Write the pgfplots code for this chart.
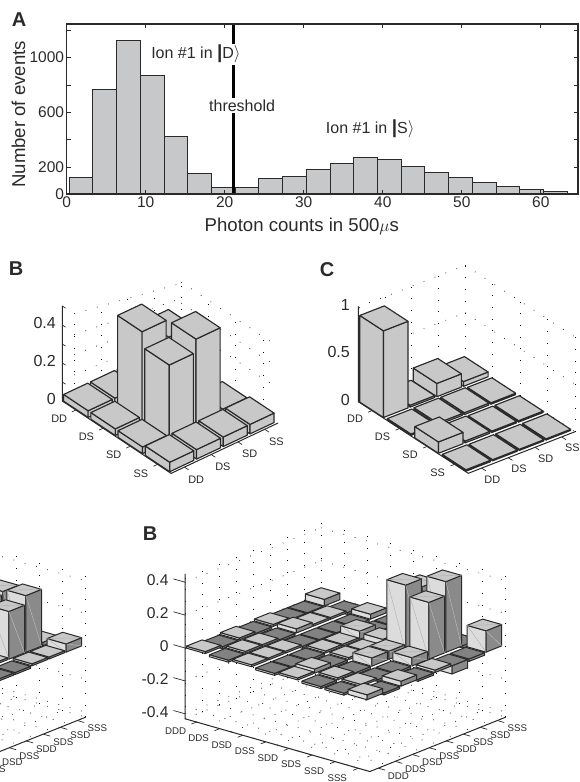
\documentclass[border=0pt]{standalone}
\usepackage{pgfplots}
\pgfplotsset{compat=1.18}
\usepackage{fontspec}
\setmainfont{Liberation Sans}

\definecolor{histbar}{HTML}{C6C8C9}
\definecolor{frame}{HTML}{2A2A2A}
\definecolor{ctop}{HTML}{C8C8C8}
\definecolor{cleft}{HTML}{DCDCDC}
\definecolor{cright}{HTML}{8A8A8A}
\definecolor{cdark}{HTML}{828282}

\pgfplotsset{
  bars3d/.style={hide axis,clip=false,anchor=origin},
  barface/.style={draw=frame,line width=\barlw,line join=round},
  dotline/.style={black,line width=.7pt,dash pattern=on .7pt off 11pt},
  axline/.style={frame,line width=1pt},
}

% one 3d bar: row i, column j, value. Back to front order is up to the caller.
\def\gapx{0.08}\def\gapy{0.08}\def\barlw{1.15pt}
\def\lcol{ctop}\def\rcol{ctop}
\newif\ifdiag
\newcommand\qbar[3]{%
  \pgfmathsetmacro\xa{#1+.5*\gapx}\pgfmathsetmacro\xb{#1+1-1.5*\gapx}%
  \pgfmathsetmacro\ya{#2+.5*\gapy}\pgfmathsetmacro\yb{#2+1-1.5*\gapy}%
  \pgfmathsetmacro\zt{max(#3,0)}%
  \ifdim#3pt<0pt \def\tcol{cdark}\else\def\tcol{ctop}\fi
  \edef\temp{%
    \noexpand\addplot3[barface,fill=\lcol] coordinates {(\xa,\ya,0)(\xb,\ya,0)(\xb,\ya,#3)(\xa,\ya,#3)(\xa,\ya,0)};
    \noexpand\addplot3[barface,fill=\rcol] coordinates {(\xb,\ya,0)(\xb,\yb,0)(\xb,\yb,#3)(\xb,\ya,#3)(\xb,\ya,0)};
    \noexpand\addplot3[barface,fill=\tcol] coordinates {(\xa,\ya,\zt)(\xb,\ya,\zt)(\xb,\yb,\zt)(\xa,\yb,\zt)(\xa,\ya,\zt)};
  }\temp
  \ifdiag\ifdim#3pt>0.04pt
    \edef\temp{%
      \noexpand\addplot3[gray!70,line width=.3pt] coordinates {(\xa,\ya,#3)(\xb,\ya,0)};
      \noexpand\addplot3[gray!40,line width=.3pt] coordinates {(\xb,\ya,#3)(\xb,\yb,0)};
      \noexpand\addplot3[gray!70,line width=.3pt] coordinates {(\xa,\ya,#3)(\xb,\yb,#3)};
    }\temp
  \fi\fi
}
% a row of bars, from column #2 down to column 0
\newcommand\barrow[3]{%
  \def\jj{#2}%
  \pgfplotsforeachungrouped \vv in {#3}{%
    \qbar{#1}{\jj}{\vv}%
    \pgfmathtruncatemacro\jj{\jj-1}%
  }%
}
\newcommand\seg[6]{\addplot3[dotline] coordinates {(#1,#2,#3)(#4,#5,#6)};}
\newcommand\tk[6]{\addplot3[axline,line width=.7pt] coordinates {(#1,#2,#3)(#4,#5,#6)};}

% state labels: index, text
\newcommand\labL[2]{%
  \node[font=\fontsize{9.7}{10}\selectfont,text=frame,xshift=-21pt,yshift=-9.5pt] at (axis cs:#1.5,0,-.43) {#2};
}
\newcommand\labR[2]{%
  \node[font=\fontsize{9.7}{10}\selectfont,text=frame,xshift=20pt,yshift=-8pt] at (axis cs:8,#1.5,-.43) {#2};
}
\newcommand\labB[2]{%
  \node[font=\fontsize{10.9}{11}\selectfont,text=frame,xshift=-16.7pt,yshift=-9pt] at (axis cs:#1.5,0,0) {#2};
  \node[font=\fontsize{10.9}{11}\selectfont,text=frame,xshift=11.7pt,yshift=-12.3pt] at (axis cs:4,#1.5,0) {#2};
}
\newcommand\labC[2]{%
  \node[font=\fontsize{10.9}{11}\selectfont,text=frame,xshift=-17pt,yshift=-8.3pt] at (axis cs:#1.5,0,0) {#2};
  \node[font=\fontsize{10.9}{11}\selectfont,text=frame,xshift=10.7pt,yshift=-11.3pt] at (axis cs:4,#1.5,0) {#2};
}

% walls, floor and axes of the 8x8 panels
\newcommand\eightframe{%
  \pgfplotsinvokeforeach{0,...,8}{%
    \seg{0}{##1}{-.43}{0}{##1}{.43}
    \seg{##1}{8}{-.43}{##1}{8}{.43}
    \seg{##1}{0}{-.43}{##1}{8}{-.43}
    \seg{0}{##1}{-.43}{8}{##1}{-.43}
  }
  \pgfplotsinvokeforeach{-.4,-.2,0,.2,.4}{%
    \seg{0}{0}{##1}{0}{8}{##1}
    \seg{0}{8}{##1}{8}{8}{##1}
  }
  \addplot3[axline] coordinates {(0,0,.45)(0,0,-.43)(8,0,-.43)(8,8,-.43)};
  \pgfplotsinvokeforeach{-.4,-.2,0,.2,.4}{\tk{0}{0}{##1}{-.5}{0}{##1}}
  \pgfplotsinvokeforeach{0,...,7}{%
    \tk{##1.5}{0}{-.43}{##1.5}{-.3}{-.43}
    \tk{8}{##1.5}{-.43}{8.3}{##1.5}{-.43}
  }
  \labR{1}{DDS}\labR{2}{DSD}\labR{3}{DSS}\labR{4}{SDD}\labR{5}{SDS}\labR{6}{SSD}\labR{7}{SSS}
}

\begin{document}
\begin{tikzpicture}
\path[use as bounding box] (0,0) rectangle (580pt,782pt);
\clip (0,0) rectangle (580pt,782pt);

% panel A, photon count histogram
\begin{axis}[
  at={(66.6pt,587.7pt)},anchor=south west,scale only axis,
  width=511.4pt,height=170.3pt,
  xmin=0,xmax=64.7,ymin=0,ymax=1246,
  xtick={0,10,...,60},
  ytick={0,200,400,600,800,1000,1200},
  yticklabels={0,200,,600,,1000,},
  tick align=inside,major tick length=4pt,tick pos=both,
  tick style={frame,line width=.8pt},
  axis line style={frame,line width=1.8pt},
  /pgf/number format/assume math mode=true,
  ticklabel style={font=\fontsize{15.5}{16}\selectfont,text=frame},
  xticklabel style={yshift=1pt},
  yticklabel style={xshift=1pt},
  every axis x label/.style={at={(axis description cs:0.46,-0.19)},anchor=center},
  every axis y label/.style={at={(axis description cs:-0.094,0.47)},rotate=90,anchor=center},
  label style={font=\fontsize{18.6}{20}\selectfont,text=frame},
  xlabel={Photon counts in 500$\mu$s},
  ylabel={Number of events},
  clip=true,
  axis on top,
]
\addplot[ybar interval,fill=histbar,draw=frame,line width=1pt] coordinates {
  (0.33,122)(3.33,768)(6.33,1127)(9.33,866)(12.33,422)(15.33,154)(18.33,51)(21.33,51)
  (24.33,117)(27.33,129)(30.33,185)(33.33,224)(36.33,266)(39.33,256)(42.33,202)(45.33,156)
  (48.33,122)(51.33,83)(54.33,56)(57.33,32)(60.33,17)(63.33,7)(66.33,7)
};
\addplot[black,line width=2.4pt] coordinates {(21.1,0)(21.1,1246)};
\node[anchor=west,fill=white,inner sep=1.5pt,font=\fontsize{16}{17}\selectfont,text=frame] at (axis cs:10.5,1026)
  {Ion \#1 in {\bfseries\fontsize{19}{19}\selectfont|}D$\rangle$};
\node[fill=white,inner sep=1.5pt,font=\fontsize{16}{17}\selectfont,text=frame] at (axis cs:22.2,647) {threshold};
\node[anchor=west,inner sep=1.5pt,font=\fontsize{16}{17}\selectfont,text=frame] at (axis cs:32.6,483)
  {Ion \#1 in {\bfseries\fontsize{19}{19}\selectfont|}S$\rangle$};
\end{axis}

% panel B top, two qubit populations
\def\gapx{0.05}\def\gapy{0.05}\def\lcol{ctop}\def\rcol{ctop}\diagfalse
\begin{axis}[bars3d,at={(62.3pt,381pt)},
  x={(27.2pt,-18.1pt)},y={(26.75pt,12.6pt)},z={(0pt,190pt)},
  xmin=0,xmax=4,ymin=0,ymax=4,zmin=0,zmax=.5]
\seg{0}{.45}{.43}{0}{4.45}{.325}
\seg{0}{.45}{.32}{0}{4.45}{.245}
\seg{0}{.45}{.215}{0}{4.45}{.163}
\seg{0}{.45}{.107}{0}{4.45}{.08}
\seg{0}{.45}{0}{0}{4.45}{0}
\seg{0}{.45}{0}{0}{.45}{.43}
\seg{0}{1.45}{0}{0}{1.45}{.404}
\seg{0}{2.45}{0}{0}{2.45}{.378}
\seg{0}{3.45}{0}{0}{3.45}{.352}
\seg{0}{4.45}{0}{0}{4.45}{.325}
\seg{1}{4.45}{0}{1}{4.45}{.33}
\seg{2}{4.45}{0}{2}{4.45}{.33}
\seg{3}{4.45}{0}{3}{4.45}{.33}
\seg{0}{4.45}{.33}{3.4}{4.45}{.33}
\seg{0}{4.45}{.22}{3.4}{4.45}{.22}
\seg{0}{4.45}{.11}{3.4}{4.45}{.11}
\addplot3[axline] coordinates {(0,0,.5)(0,0,0)(4,0,0)(4,4,0)};
\pgfplotsinvokeforeach{0,.1,.2,.3,.4,.5}{\tk{0}{0}{#1}{.12}{0}{#1}}
\pgfplotsinvokeforeach{0,...,3}{\tk{#1.5}{0}{0}{#1.5}{-.15}{0}\tk{4}{#1.5}{0}{4.15}{#1.5}{0}}
\barrow{0}{3}{.035,.035,.035,.035}
\barrow{1}{3}{.03,.385,.48,.035}
\barrow{2}{3}{.035,.47,.40,.035}
\barrow{3}{3}{.05,.05,.05,.05}
\pgfplotsinvokeforeach{0,0.2,0.4}{\node[anchor=east,font=\fontsize{16}{17}\selectfont,text=frame,xshift=-3pt,yshift=2pt] at (axis cs:0,0,#1) {#1};}
\labB{0}{DD}\labB{1}{DS}\labB{2}{SD}\labB{3}{SS}
\end{axis}

% panel C
\def\gapx{0.07}\def\gapy{0.04}
\begin{axis}[bars3d,at={(358.3pt,380.3pt)},
  x={(27.5pt,-17.9pt)},y={(26.7pt,10.4pt)},z={(0pt,94.7pt)},
  xmin=0,xmax=4,ymin=0,ymax=4,zmin=0,zmax=1]
\pgfplotsinvokeforeach{0,...,4}{\seg{0}{#1}{0}{0}{#1}{1}\seg{#1}{4}{0}{#1}{4}{1}}
\pgfplotsinvokeforeach{0,.5,1}{\seg{0}{0}{#1}{0}{4}{#1}\seg{0}{4}{#1}{4}{4}{#1}}
\addplot3[axline] coordinates {(0,0,1)(0,0,0)(4,0,0)(4,4,0)};
\pgfplotsinvokeforeach{0,.25,.5,.75,1}{\tk{0}{0}{#1}{.06}{0}{#1}}
\pgfplotsinvokeforeach{0,...,3}{\tk{#1.5}{0}{0}{#1.5}{-.15}{0}\tk{4}{#1.5}{0}{4.15}{#1.5}{0}}
\barrow{0}{3}{.05,.14,.02,.915}
\barrow{1}{3}{.015,.02,.02,.015}
\barrow{2}{3}{.015,.015,.02,.12}
\barrow{3}{3}{.012,.012,.012,.015}
\pgfplotsinvokeforeach{0,0.5,1}{\node[anchor=east,font=\fontsize{16}{17}\selectfont,text=frame,xshift=-5pt,yshift=2pt] at (axis cs:0,0,#1) {#1};}
\labC{0}{DD}\labC{1}{DS}\labC{2}{SD}\labC{3}{SS}
\end{axis}

% 8x8 panel cut off at the left edge
\def\gapx{0.09}\def\gapy{0.04}\def\barlw{1pt}\def\lcol{cleft}\def\rcol{cright}\diagtrue
\begin{axis}[bars3d,at={(-235pt,134pt)},
  x={(23.1pt,-6.6pt)},y={(17pt,6.8pt)},z={(0pt,164.5pt)},
  xmin=0,xmax=8,ymin=0,ymax=8,zmin=-.43,zmax=.45]
\eightframe
\barrow{3}{7}{-.012}
\barrow{4}{7}{-.012,.012}
\barrow{5}{7}{.012,.33,.31}
\barrow{6}{7}{.02,.345,.29,.012,-.012}
\barrow{7}{7}{.05,.012,.012,-.012,-.012,.012,.012}
\end{axis}

% panel B bottom, 8x8 matrix
\begin{axis}[bars3d,at={(185pt,134pt)},
  x={(23.1pt,-6.6pt)},y={(17pt,6.8pt)},z={(0pt,164.5pt)},
  xmin=0,xmax=8,ymin=0,ymax=8,zmin=-.43,zmax=.45]
\eightframe
\labR{0}{DDD}
\labL{0}{DDD}\labL{1}{DDS}\labL{2}{DSD}\labL{3}{DSS}\labL{4}{SDD}\labL{5}{SDS}\labL{6}{SSD}\labL{7}{SSS}
\barrow{0}{7}{.04,-.012,-.012,.012,-.012,.012,-.012,.012}
\barrow{1}{7}{-.012,.012,.012,.025,-.012,.012,.012,-.012}
\barrow{2}{7}{.03,-.012,-.012,-.012,-.012,.012,.012,.012}
\barrow{3}{7}{-.012,-.012,.05,.012,.012,-.012,-.012,-.012}
\barrow{4}{7}{-.012,.02,.04,.012,.012,-.012,.025,.012}
\barrow{5}{7}{.02,.36,.41,.05,.05,-.012,.012,-.012}
\barrow{6}{7}{-.015,.43,.345,.05,-.012,-.012,.012,-.012}
\barrow{7}{7}{.13,-.015,-.05,.015,-.012,.03,-.012,.03}
\pgfplotsinvokeforeach{-0.4,-0.2,0,0.2,0.4}{\node[anchor=east,font=\fontsize{15.6}{16}\selectfont,text=frame,xshift=-13pt,yshift=2pt] at (axis cs:0,0,#1) {#1};}
\end{axis}

% panel letters
\foreach \x/\y/\s in {19/762/A,16/513/B,327/512/C,150/248/B}{%
  \node[font=\fontsize{20}{20}\selectfont\bfseries,text=frame] at (\x pt,\y pt) {\s};
}
\end{tikzpicture}
\end{document}
